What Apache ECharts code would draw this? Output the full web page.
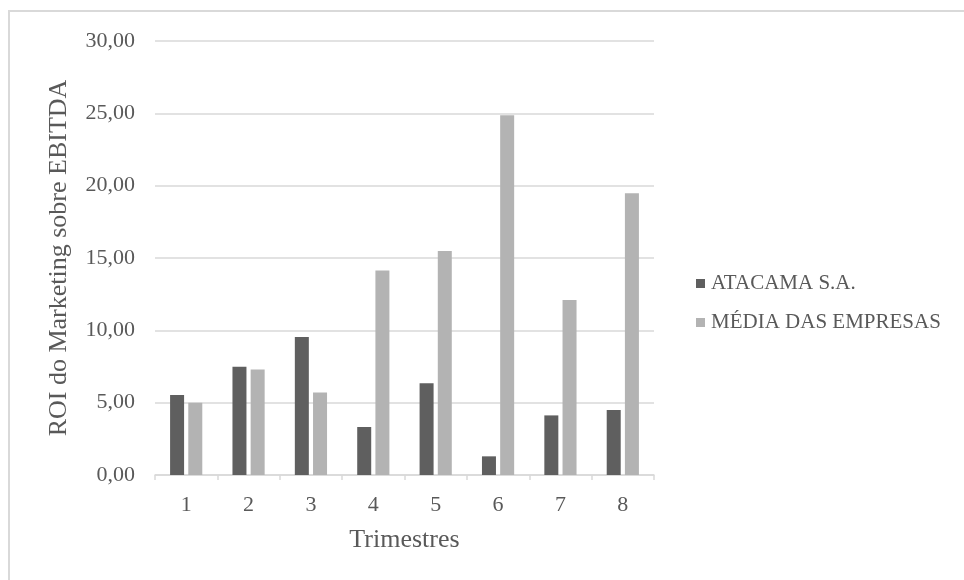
<!DOCTYPE html>
<html>
<head>
<meta charset="utf-8">
<script src="https://cdn.jsdelivr.net/npm/echarts@6/dist/echarts.min.js"></script>
<style>html,body{margin:0;padding:0;background:#fff;}#c{width:964px;height:580px;}</style>
</head>
<body>
<div id="c"></div>
<script>
const categories = ['1','2','3','4','5','6','7','8'];
const atacama = [5.53, 7.49, 9.54, 3.32, 6.34, 1.29, 4.12, 4.49];
const mediaEmpresas = [5.00, 7.30, 5.71, 14.14, 15.48, 24.86, 12.09, 19.47];
const seriesNames = ['ATACAMA S.A.', 'MÉDIA DAS EMPRESAS'];
const yTitle = 'ROI do Marketing sobre EBITDA';
const xTitle = 'Trimestres';

const FONT = '"Liberation Serif", "Times New Roman", serif';
const TXT = '#595959';
const chart = echarts.init(document.getElementById('c'), null, {renderer: 'canvas'});
chart.setOption({
  animation: false,
  backgroundColor: '#fff',
  textStyle: {fontFamily: FONT, color: TXT},
  graphic: [{
    type: 'rect', silent: true, z: -1,
    shape: {x: 9, y: 11, width: 1000, height: 1000},
    style: {fill: 'none', stroke: '#d9d9d9', lineWidth: 2}
  }],
  grid: {left: 155, right: 310, top: 41, bottom: 105, containLabel: false},
  legend: {
    orient: 'vertical', left: 696, top: 273, padding: 0, itemWidth: 9, itemHeight: 9, itemGap: 18,
    icon: 'rect',
    textStyle: {fontFamily: FONT, fontSize: 21, color: TXT, padding: [0, 0, 0, 1]},
    data: seriesNames
  },
  xAxis: {
    type: 'category', data: categories,
    name: xTitle, nameLocation: 'middle', nameGap: 52,
    nameTextStyle: {fontFamily: FONT, fontSize: 26, color: TXT},
    axisLine: {lineStyle: {color: '#d9d9d9', width: 1.5}},
    axisTick: {show: true, length: 5, lineStyle: {color: '#d9d9d9', width: 1.5}},
    axisLabel: {fontFamily: FONT, fontSize: 22, color: TXT, margin: 19}
  },
  yAxis: {
    type: 'value', min: 0, max: 30, interval: 5,
    name: yTitle, nameLocation: 'middle', nameGap: 83, nameRotate: 90,
    nameTextStyle: {fontFamily: FONT, fontSize: 26, color: TXT},
    axisLine: {show: false}, axisTick: {show: false},
    splitLine: {lineStyle: {color: '#d9d9d9', width: 1.5}},
    axisLabel: {fontFamily: FONT, fontSize: 22, color: TXT, margin: 20,
      formatter: v => v.toFixed(2).replace('.', ',')}
  },
  series: [
    {name: seriesNames[0], type: 'bar', data: atacama, barWidth: 14, barGap: '30%',
     itemStyle: {color: '#5f5f5f'}},
    {name: seriesNames[1], type: 'bar', data: mediaEmpresas, barWidth: 14,
     itemStyle: {color: '#b3b3b3'}}
  ]
});
</script>
</body>
</html>
